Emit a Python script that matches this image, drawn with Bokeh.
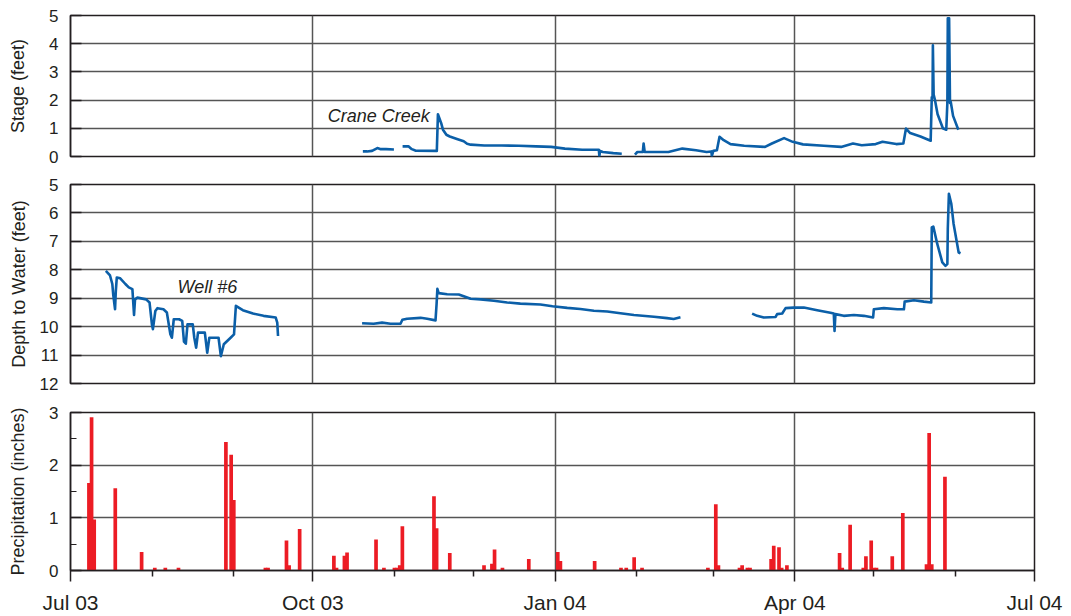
import pandas as pd
import numpy as np
from datetime import datetime
from bokeh.plotting import figure
from bokeh.layouts import column
from bokeh.models import Range1d, FixedTicker, Label, ColumnDataSource
from bokeh.embed import file_html
from bokeh.resources import INLINE

# ---------------- data ----------------
quarter_ticks = ["2003-07-01", "2003-10-01", "2004-01-01", "2004-04-01", "2004-07-01"]
quarter_labels = ["Jul 03", "Oct 03", "Jan 04", "Apr 04", "Jul 04"]
month_ticks = ["2003-08-01", "2003-09-01", "2003-11-01", "2003-12-01",
               "2004-02-01", "2004-03-01", "2004-05-01", "2004-06-01"]

# Crane Creek stage (feet)
creek_1_t = ["2003-10-20 00:00", "2003-10-21 14:00", "2003-10-23 12:00", "2003-10-25 12:00",
             "2003-10-26 19:00", "2003-10-28 19:00", "2003-10-31 19:00"]
creek_1_v = [0.18, 0.18, 0.20, 0.30, 0.26, 0.26, 0.25]

creek_2_t = ["2003-11-04 02:00", "2003-11-06 07:00", "2003-11-07 14:00", "2003-11-08 22:00",
             "2003-11-17 02:00", "2003-11-17 12:00", "2003-11-18 17:00", "2003-11-19 10:00",
             "2003-11-20 17:00", "2003-11-22 00:00", "2003-11-24 17:00", "2003-11-27 07:00",
             "2003-11-28 14:00", "2003-11-29 22:00", "2003-12-05 02:00", "2003-12-11 17:00",
             "2003-12-18 05:00", "2003-12-24 19:00", "2003-12-30 12:00", "2004-01-04 17:00",
             "2004-01-11 07:00", "2004-01-17 14:00", "2004-01-17 19:00", "2004-01-18 02:00",
             "2004-01-19 02:00", "2004-01-23 02:00", "2004-01-26 07:00"]
creek_2_v = [0.36, 0.36, 0.26, 0.21, 0.20, 1.50, 1.19, 0.95, 0.77, 0.71, 0.62, 0.54,
             0.45, 0.42, 0.39, 0.39, 0.38, 0.36, 0.34, 0.28, 0.24, 0.24, 0.02, 0.20,
             0.16, 0.12, 0.10]

creek_3_t = ["2004-01-31 07:00", "2004-02-01 05:00", "2004-02-03 07:00", "2004-02-03 14:00",
             "2004-02-04 00:00", "2004-02-13 00:00", "2004-02-18 07:00", "2004-02-23 12:00",
             "2004-02-27 12:00", "2004-02-29 07:00", "2004-02-29 12:00", "2004-03-01 02:00",
             "2004-03-02 10:00", "2004-03-03 10:00", "2004-03-05 00:00", "2004-03-07 14:00",
             "2004-03-12 19:00", "2004-03-20 17:00", "2004-03-23 07:00", "2004-03-27 22:00",
             "2004-03-31 05:00", "2004-04-04 02:00", "2004-04-12 00:00", "2004-04-18 14:00",
             "2004-04-23 02:00", "2004-04-26 10:00", "2004-05-01 17:00", "2004-05-04 07:00",
             "2004-05-09 12:00", "2004-05-12 05:00", "2004-05-13 05:00", "2004-05-14 19:00",
             "2004-05-18 17:00", "2004-05-22 14:00", "2004-05-23 00:00", "2004-05-23 07:00",
             "2004-05-23 10:00", "2004-05-23 17:00", "2004-05-24 05:00", "2004-05-25 05:00",
             "2004-05-27 05:00", "2004-05-28 12:00", "2004-05-28 22:00", "2004-05-29 02:00",
             "2004-05-29 14:00", "2004-05-29 22:00", "2004-05-30 05:00", "2004-05-31 02:00",
             "2004-06-02 02:00"]
creek_3_v = [0.07, 0.16, 0.16, 0.46, 0.16, 0.16, 0.28, 0.22, 0.16, 0.18, 0.02, 0.20,
             0.22, 0.70, 0.58, 0.44, 0.38, 0.34, 0.46, 0.65, 0.52, 0.43, 0.38, 0.34,
             0.46, 0.40, 0.44, 0.52, 0.44, 0.46, 0.99, 0.83, 0.71, 0.56, 2.10, 2.10,
             3.94, 2.20, 2.00, 1.50, 1.00, 0.95, 1.90, 4.90, 4.90, 1.90, 1.93, 1.44,
             0.95]

# Well #6 depth to water (feet)
well_1_t = ["2003-07-14 10:00", "2003-07-16 00:00", "2003-07-16 21:00", "2003-07-17 05:00",
            "2003-07-17 22:00", "2003-07-18 05:00", "2003-07-18 14:00", "2003-07-19 21:00",
            "2003-07-21 20:00", "2003-07-23 03:00", "2003-07-24 12:00", "2003-07-25 03:00",
            "2003-07-25 12:00", "2003-07-26 10:00", "2003-07-29 17:00", "2003-07-31 00:00",
            "2003-07-31 22:00", "2003-08-01 07:00", "2003-08-02 05:00", "2003-08-03 00:00",
            "2003-08-05 07:00", "2003-08-06 14:00", "2003-08-07 22:00", "2003-08-08 12:00",
            "2003-08-09 05:00", "2003-08-11 05:00", "2003-08-12 10:00", "2003-08-13 02:00",
            "2003-08-13 19:00", "2003-08-14 10:00", "2003-08-16 10:00", "2003-08-17 00:00",
            "2003-08-17 17:00", "2003-08-18 10:00", "2003-08-21 00:00", "2003-08-21 22:00",
            "2003-08-22 17:00", "2003-08-26 05:00", "2003-08-27 02:00", "2003-08-28 05:00",
            "2003-08-30 19:00", "2003-09-01 02:00", "2003-09-01 19:00", "2003-09-04 10:00",
            "2003-09-08 07:00", "2003-09-12 07:00", "2003-09-16 22:00", "2003-09-17 12:00",
            "2003-09-17 19:00"]
well_1_v = [8.04, 8.20, 8.50, 8.86, 9.39, 8.74, 8.27, 8.30, 8.50, 8.62, 8.68, 9.59,
            9.04, 8.98, 9.04, 9.15, 9.92, 10.09, 9.45, 9.35, 9.39, 9.50, 10.27, 10.39,
            9.74, 9.74, 9.80, 10.53, 10.60, 9.92, 9.92, 10.39, 10.74, 10.21, 10.21, 10.92,
            10.39, 10.39, 11.04, 10.62, 10.39, 10.27, 9.27, 9.42, 9.54, 9.62, 9.68, 9.86,
            10.33]

well_2_t = ["2003-10-19 17:00", "2003-10-24 02:00", "2003-10-27 07:00", "2003-10-30 12:00",
            "2003-11-03 07:00", "2003-11-04 00:00", "2003-11-05 19:00", "2003-11-10 22:00",
            "2003-11-13 10:00", "2003-11-16 14:00", "2003-11-17 00:00", "2003-11-17 07:00",
            "2003-11-17 19:00", "2003-11-21 00:00", "2003-11-25 10:00", "2003-11-27 07:00",
            "2003-11-29 22:00", "2003-12-03 17:00", "2003-12-08 17:00", "2003-12-13 19:00",
            "2003-12-18 19:00", "2003-12-26 10:00", "2003-12-31 00:00", "2004-01-05 14:00",
            "2004-01-10 14:00", "2004-01-15 17:00", "2004-01-20 19:00", "2004-01-25 19:00",
            "2004-01-30 22:00", "2004-02-07 12:00", "2004-02-12 12:00", "2004-02-15 00:00",
            "2004-02-17 14:00"]
well_2_v = [9.88, 9.90, 9.86, 9.90, 9.90, 9.76, 9.72, 9.69, 9.72, 9.78, 9.19, 8.67,
            8.82, 8.86, 8.87, 8.93, 9.02, 9.04, 9.09, 9.15, 9.19, 9.22, 9.28, 9.34,
            9.38, 9.44, 9.47, 9.53, 9.59, 9.65, 9.70, 9.73, 9.67]

well_3_t = ["2004-03-15 19:00", "2004-03-17 17:00", "2004-03-20 05:00", "2004-03-24 17:00",
            "2004-03-25 07:00", "2004-03-27 05:00", "2004-03-28 12:00", "2004-03-31 14:00",
            "2004-04-04 10:00", "2004-04-09 12:00", "2004-04-14 12:00", "2004-04-15 19:00",
            "2004-04-16 02:00", "2004-04-16 10:00", "2004-04-19 14:00", "2004-04-23 10:00",
            "2004-04-27 05:00", "2004-04-30 17:00", "2004-05-01 00:00", "2004-05-04 19:00",
            "2004-05-09 22:00", "2004-05-12 10:00", "2004-05-12 17:00", "2004-05-16 05:00",
            "2004-05-20 00:00", "2004-05-22 19:00", "2004-05-23 00:00", "2004-05-23 14:00",
            "2004-05-25 02:00", "2004-05-27 00:00", "2004-05-28 05:00", "2004-05-28 22:00",
            "2004-05-29 02:00", "2004-05-29 12:00", "2004-05-30 10:00", "2004-05-31 07:00",
            "2004-06-01 10:00", "2004-06-02 05:00", "2004-06-02 22:00"]
well_3_v = [9.54, 9.62, 9.68, 9.66, 9.56, 9.54, 9.35, 9.33, 9.33, 9.42, 9.51, 9.54,
            10.15, 9.56, 9.62, 9.59, 9.62, 9.68, 9.39, 9.35, 9.39, 9.39, 9.12, 9.07,
            9.12, 9.15, 6.51, 6.48, 7.09, 7.74, 7.86, 7.80, 6.56, 5.33, 5.68, 6.39,
            6.98, 7.39, 7.42]

# Daily precipitation (inches)
precip_dates = ["2003-07-08", "2003-07-09", "2003-07-10", "2003-07-18", "2003-07-28",
                "2003-08-02", "2003-08-06", "2003-08-11", "2003-08-29", "2003-08-31",
                "2003-09-01", "2003-09-13", "2003-09-14", "2003-09-21", "2003-09-22",
                "2003-09-26", "2003-10-09", "2003-10-10", "2003-10-13", "2003-10-14",
                "2003-10-25", "2003-10-28", "2003-11-01", "2003-11-02", "2003-11-03",
                "2003-11-04", "2003-11-16", "2003-11-17", "2003-11-22", "2003-12-05",
                "2003-12-08", "2003-12-09", "2003-12-12", "2003-12-22", "2004-01-02",
                "2004-01-03", "2004-01-16", "2004-01-26", "2004-01-28", "2004-01-31",
                "2004-02-03", "2004-02-28", "2004-03-02", "2004-03-03", "2004-03-11",
                "2004-03-12", "2004-03-14", "2004-03-15", "2004-03-23", "2004-03-24",
                "2004-03-26", "2004-03-27", "2004-03-29", "2004-04-18", "2004-04-19",
                "2004-04-22", "2004-04-27", "2004-04-28", "2004-04-30", "2004-05-01",
                "2004-05-02", "2004-05-08", "2004-05-12", "2004-05-21", "2004-05-22",
                "2004-05-23", "2004-05-28"]
precip_values = [1.66, 2.91, 0.97, 1.56, 0.35, 0.05, 0.05, 0.05, 2.44, 2.20,
                 1.34, 0.05, 0.05, 0.57, 0.10, 0.79, 0.28, 0.05, 0.28, 0.34,
                 0.59, 0.05, 0.05, 0.05, 0.10, 0.84, 1.41, 0.80, 0.33, 0.10,
                 0.13, 0.40, 0.05, 0.22, 0.35, 0.18, 0.18, 0.05, 0.05, 0.25,
                 0.05, 0.05, 1.26, 0.10, 0.05, 0.10, 0.05, 0.05, 0.22, 0.47,
                 0.44, 0.05, 0.10, 0.33, 0.05, 0.87, 0.05, 0.27, 0.57, 0.05,
                 0.05, 0.27, 1.09, 0.12, 2.61, 0.12, 1.78]

# ---------------- styling ----------------
FONT = "Liberation Sans"
TEXT = "#231F20"
GRID = "#555555"
LINE = "#0B5FA8"
BAR = "#EC1C24"
W = 1064


def ms(s):
    return pd.Timestamp(s).value // 10**6


x_range = Range1d(start=datetime(2003, 7, 1), end=datetime(2004, 7, 1))
q_ms = [ms(s) for s in quarter_ticks]
m_ms = [ms(s) for s in month_ticks]


def make_fig(height, btop, bbot, y_range, yticks, ylabel, lab_standoff,
             minor=None, show_x=False):
    p = figure(width=W, height=height, x_range=x_range, y_range=y_range,
               x_axis_type="datetime",
               x_axis_location="below" if show_x else None,
               output_backend="svg", toolbar_location=None,
               min_border_left=70, min_border_right=30,
               min_border_top=btop, min_border_bottom=bbot)
    p.background_fill_color = "white"
    p.border_fill_color = "white"
    p.outline_line_color = TEXT
    p.outline_line_width = 1.5
    p.outline_line_alpha = 1.0

    ya = p.yaxis[0]
    ya.ticker = FixedTicker(ticks=yticks, minor_ticks=minor or [])
    ya.major_tick_in = 11
    ya.major_tick_out = 0
    ya.minor_tick_in = 6
    ya.minor_tick_out = 0
    ya.major_tick_line_color = TEXT
    ya.major_tick_line_width = 1.5
    ya.minor_tick_line_color = TEXT
    ya.minor_tick_line_width = 1.2
    ya.axis_line_color = TEXT
    ya.axis_line_width = 1.5
    ya.major_label_text_font = FONT
    ya.major_label_text_font_size = "17px"
    ya.major_label_text_color = TEXT
    ya.major_label_standoff = 12
    ya.axis_label = ylabel
    ya.axis_label_text_font = FONT
    ya.axis_label_text_font_size = "18px"
    ya.axis_label_text_font_style = "normal"
    ya.axis_label_text_color = TEXT
    ya.axis_label_standoff = lab_standoff

    p.ygrid.ticker = FixedTicker(ticks=yticks)
    p.ygrid.grid_line_color = GRID
    p.ygrid.grid_line_width = 1.3
    p.xgrid.ticker = FixedTicker(ticks=q_ms)
    p.xgrid.grid_line_color = GRID
    p.xgrid.grid_line_width = 1.5

    if show_x:
        xa = p.xaxis[0]
        xa.ticker = FixedTicker(ticks=q_ms, minor_ticks=m_ms)
        xa.major_label_overrides = {int(t): lab for t, lab in zip(q_ms, quarter_labels)}
        xa.major_tick_in = 0
        xa.major_tick_out = 11
        xa.minor_tick_in = 0
        xa.minor_tick_out = 6
        xa.major_tick_line_color = TEXT
        xa.major_tick_line_width = 1.5
        xa.minor_tick_line_color = TEXT
        xa.minor_tick_line_width = 1.5
        xa.axis_line_color = TEXT
        xa.axis_line_width = 1.5
        xa.major_label_text_font = FONT
        xa.major_label_text_font_size = "21px"
        xa.major_label_text_color = TEXT
        xa.major_label_standoff = 9
    return p


# ---- top: stage ----
p1 = make_fig(170, 15, 14, Range1d(0, 5), [0, 1, 2, 3, 4, 5], "Stage (feet)", 18)
for t, v in [(creek_1_t, creek_1_v), (creek_2_t, creek_2_v), (creek_3_t, creek_3_v)]:
    p1.line(x=pd.to_datetime(t), y=v, line_color=LINE, line_width=2.6, line_join="round")
p1.add_layout(Label(x=ms("2003-10-26"), y=1.42, text="Crane Creek", text_align="center",
                    text_baseline="middle", text_font=FONT, text_font_size="18px",
                    text_font_style="italic", text_color=TEXT))

# ---- middle: well ----
p2 = make_fig(227, 14, 14, Range1d(12, 5), [5, 6, 7, 8, 9, 10, 11, 12],
              "Depth to Water (feet)", 8)
for t, v in [(well_1_t, well_1_v), (well_2_t, well_2_v), (well_3_t, well_3_v)]:
    p2.line(x=pd.to_datetime(t), y=v, line_color=LINE, line_width=2.6, line_join="round")
p2.add_layout(Label(x=ms("2003-08-22"), y=8.59, text="Well #6", text_align="center",
                    text_baseline="middle", text_font=FONT, text_font_size="18px",
                    text_font_style="italic", text_color=TEXT))

# ---- bottom: precipitation ----
p3 = make_fig(219, 15, 43, Range1d(0, 3), [0, 1, 2, 3], "Precipitation (inches)", 18,
              minor=[0.5, 1.5, 2.5], show_x=True)
src = ColumnDataSource(dict(x=pd.to_datetime(precip_dates), top=precip_values))
p3.vbar(x="x", top="top", bottom=0, width=1.4 * 86400000, source=src,
        fill_color=BAR, line_color=None)

layout = column(p1, p2, p3)
open("out.html", "w").write(file_html(layout, INLINE))
